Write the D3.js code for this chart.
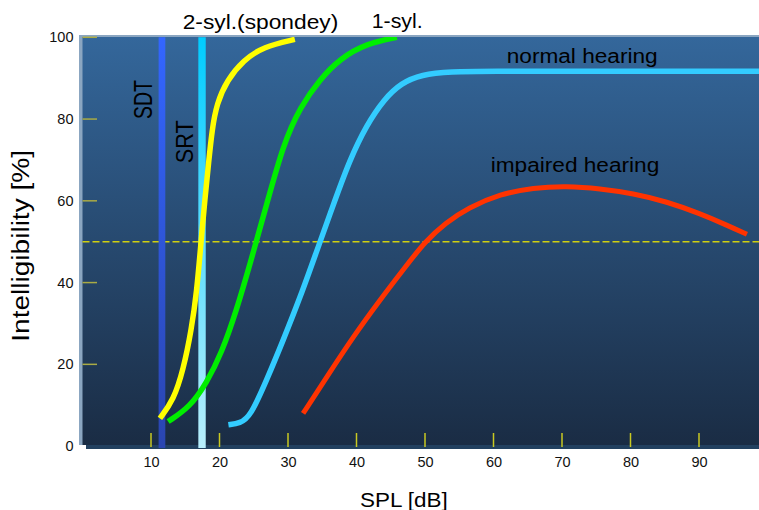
<!DOCTYPE html>
<html>
<head>
<meta charset="utf-8">
<script src="https://cdnjs.cloudflare.com/ajax/libs/d3/7.8.5/d3.min.js"></script>
<style>
  html, body { margin: 0; padding: 0; background: #fff; }
  svg { display: block; font-family: "Liberation Sans", Arial, Helvetica, sans-serif; }
</style>
</head>
<body>
<div id="chart"></div>
<script>
// speech audiogram: intelligibility vs. sound pressure level
var xTicks = [10, 20, 30, 40, 50, 60, 70, 80, 90];
var yTicks = [0, 20, 40, 60, 80, 100];

var sdtLevel = 11.6;   // speech detection threshold
var srtLevel = 17.45;  // speech reception threshold
var halfLine = 50;

// 2-syllable words (spondees)
var twoSylDb  = [11.3, 13.3, 14.7, 15.9, 16.7, 17.2, 17.9, 18.4, 18.9, 19.6, 21.1, 23.5, 26.4, 31.0];
var twoSylPct = [6.8, 11.3, 18.6, 28.4, 38.2, 48.0, 61.0, 69.1, 77.3, 83.8, 89.5, 94.4, 97.7, 99.5];

// 1-syllable words
var oneSylDb  = [12.5, 15.7, 18.1, 20.3, 22.5, 24.5, 26.9, 29.3, 31.8, 34.7, 37.6, 41.5, 45.9];
var oneSylPct = [6.0, 9.6, 15.4, 22.7, 33.3, 44.8, 59.2, 73.8, 83.0, 89.8, 94.8, 98.5, 100];

// normal hearing
var normalDb  = [21.3, 23.0, 24.5, 26.9, 29.3, 31.8, 34.0, 36.5, 39.0, 41.5, 44.0, 46.5, 49.5, 53.6, 60, 70, 80, 90, 99];
var normalPct = [5.2, 5.6, 7.2, 16.2, 25.9, 36.5, 46.8, 58.5, 70.0, 78.6, 84.8, 88.8, 90.9, 91.6, 91.7, 91.7, 91.7, 91.7, 91.7];

// impaired hearing
var impairedDb  = [32.2, 35.7, 39.5, 43.4, 47.3, 50.0, 53.0, 56.3, 61.0, 65.8, 70.7, 75.5, 80.4, 85.3, 90.1, 94.0, 97.0];
var impairedPct = [8.0, 17.0, 26.7, 35.7, 44.2, 50.0, 54.6, 58.3, 61.7, 63.2, 63.6, 63.0, 61.8, 59.8, 56.9, 54.1, 51.8];

var width = 759, height = 510;
var plot = { left: 82.5, top: 37, right: 759, bottom: 445 };

var svg = d3.select("#chart").append("svg")
	.attr("width", width)
	.attr("height", height);

var x = d3.scaleLinear().domain([0, 100]).range([82.5, 767.5]);
var y = d3.scaleLinear().domain([0, 100]).range([446.1, 37.3]);

var defs = svg.append("defs");
var bg = defs.append("linearGradient").attr("id", "bg")
	.attr("x1", 0).attr("y1", 0).attr("x2", 0).attr("y2", 1);
bg.append("stop").attr("offset", "0%").attr("stop-color", "#34679b");
bg.append("stop").attr("offset", "100%").attr("stop-color", "#1a2c44");

var sdtGrad = defs.append("linearGradient").attr("id", "sdtGrad")
	.attr("gradientUnits", "userSpaceOnUse")
	.attr("x1", 0).attr("y1", plot.top).attr("x2", 0).attr("y2", 448);
sdtGrad.append("stop").attr("offset", "0%").attr("stop-color", "#3366ff");
sdtGrad.append("stop").attr("offset", "100%").attr("stop-color", "#2a45b0");

var srtGrad = defs.append("linearGradient").attr("id", "srtGrad")
	.attr("gradientUnits", "userSpaceOnUse")
	.attr("x1", 0).attr("y1", plot.top).attr("x2", 0).attr("y2", 448);
srtGrad.append("stop").attr("offset", "0%").attr("stop-color", "#00ccff");
srtGrad.append("stop").attr("offset", "100%").attr("stop-color", "#b8eefc");

defs.append("clipPath").attr("id", "clip")
	.append("rect")
	.attr("x", plot.left).attr("y", plot.top)
	.attr("width", plot.right - plot.left).attr("height", 449 - plot.top);

// drop shadow, light frame and the gradient panel
svg.append("rect")
	.attr("x", 86).attr("y", 40)
	.attr("width", width - 86).attr("height", 449 - 40)
	.attr("fill", "#22405f");
svg.append("rect")
	.attr("x", 79).attr("y", 35)
	.attr("width", width - 79).attr("height", plot.bottom - 35)
	.attr("fill", "#8ba6c1");
svg.append("rect")
	.attr("x", plot.left).attr("y", plot.top)
	.attr("width", plot.right - plot.left).attr("height", plot.bottom - plot.top)
	.attr("fill", "url(#bg)");

// tick marks inside the panel
svg.append("g")
	.selectAll("line")
	.data(yTicks.filter(function (d) { return d > 0; }))
	.enter()
	.append("line")
	.attr("x1", plot.left).attr("x2", 97)
	.attr("y1", function (d) { return y(d); })
	.attr("y2", function (d) { return y(d); })
	.attr("stroke", "#aaab45")
	.attr("stroke-width", 1.5);

svg.append("g")
	.selectAll("line")
	.data(xTicks)
	.enter()
	.append("line")
	.attr("x1", function (d) { return x(d); })
	.attr("x2", function (d) { return x(d); })
	.attr("y1", 433).attr("y2", 447)
	.attr("stroke", "#c9c922")
	.attr("stroke-width", 1.5);

// tick labels through d3 axes
var yAxis = svg.append("g")
	.attr("transform", "translate(" + plot.left + ",0)")
	.call(d3.axisLeft(y).tickValues(yTicks).tickSize(0).tickPadding(9));
var xAxis = svg.append("g")
	.attr("transform", "translate(0,446)")
	.call(d3.axisBottom(x).tickValues(xTicks).tickSize(0).tickPadding(11));
[yAxis, xAxis].forEach(function (a) {
	a.select(".domain").remove();
	a.selectAll("text")
		.attr("fill", "#111")
		.style("font-size", "14.5px")
		.style("font-family", "'Liberation Sans', Arial, sans-serif");
});

// 50 % reference line
svg.append("line")
	.attr("x1", plot.left).attr("x2", plot.right)
	.attr("y1", y(halfLine)).attr("y2", y(halfLine))
	.attr("stroke", "#d0d010")
	.attr("stroke-width", 1.5)
	.attr("stroke-dasharray", "7,3");

// SDT / SRT verticals
svg.append("line")
	.attr("x1", x(sdtLevel)).attr("x2", x(sdtLevel))
	.attr("y1", y(100)).attr("y2", 448)
	.attr("stroke", "url(#sdtGrad)")
	.attr("stroke-width", 6.7);
svg.append("line")
	.attr("x1", x(srtLevel)).attr("x2", x(srtLevel))
	.attr("y1", y(100)).attr("y2", 448)
	.attr("stroke", "url(#srtGrad)")
	.attr("stroke-width", 7.4);

// curves
var series = [
	{ db: twoSylDb, pct: twoSylPct, color: "#ffff00", w: 5.5 },
	{ db: oneSylDb, pct: oneSylPct, color: "#00ee00", w: 5.5 },
	{ db: normalDb, pct: normalPct, color: "#33ccff", w: 5.5 },
	{ db: impairedDb, pct: impairedPct, color: "#ff3300", w: 5 }
];

var line = d3.line()
	.x(function (d) { return x(d[0]); })
	.y(function (d) { return y(d[1]); })
	.curve(d3.curveBasis);

svg.append("g")
	.attr("clip-path", "url(#clip)")
	.selectAll("path")
	.data(series)
	.enter()
	.append("path")
	.attr("d", function (s) { return line(d3.zip(s.db, s.pct)); })
	.attr("fill", "none")
	.attr("stroke", function (s) { return s.color; })
	.attr("stroke-width", function (s) { return s.w; })
	.attr("stroke-linecap", "butt")
	.attr("stroke-linejoin", "round");

// text labels (x, baseline, font size, stretched length, x-stretch, rotated)
var labels = [
	{ t: "2-syl.(spondey)", x: 182.7, y: 29.3, f: 19.5, len: 155.6, sx: 1, rot: false },
	{ t: "1-syl.", x: 371.7, y: 28.3, f: 20, len: 51, sx: 1, rot: false },
	{ t: "normal hearing", x: 506.7, y: 62.7, f: 20, len: 151, sx: 1, rot: false },
	{ t: "impaired hearing", x: 490.7, y: 171.7, f: 20, len: 168.6, sx: 1, rot: false },
	{ t: "SPL [dB]", x: 360, y: 506.7, f: 21, len: 87.7, sx: 1, rot: false },
	{ t: "SDT", x: 151.7, y: 119, f: 20, len: 39, sx: 1.28, rot: true },
	{ t: "SRT", x: 192.5, y: 163.3, f: 20, len: 43, sx: 1.22, rot: true },
	{ t: "Intelligibility [%]", x: 29.3, y: 341.7, f: 22, len: 191.7, sx: 1.05, rot: true }
];

svg.append("g")
	.selectAll("text")
	.data(labels)
	.enter()
	.append("text")
	.attr("transform", function (d) {
		return "translate(" + d.x + "," + d.y + ") scale(" + d.sx + ",1)" + (d.rot ? " rotate(-90)" : "");
	})
	.attr("textLength", function (d) { return d.len; })
	.attr("lengthAdjust", "spacingAndGlyphs")
	.attr("font-size", function (d) { return d.f + "px"; })
	.attr("fill", "#000")
	.text(function (d) { return d.t; });
</script>
</body>
</html>
